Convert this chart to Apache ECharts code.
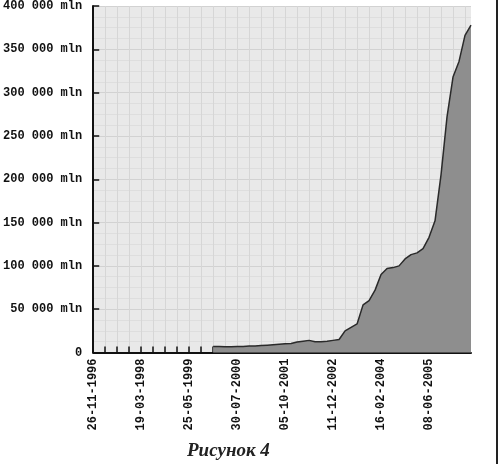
<!DOCTYPE html>
<html>
<head>
<meta charset="utf-8">
<script src="https://cdn.jsdelivr.net/npm/echarts@6/dist/echarts.min.js"></script>
<style>
html, body { margin: 0; padding: 0; background: #fff; }
#chart { width: 499px; height: 464px; }
</style>
</head>
<body>
<div id="chart"></div>
<script>
// dates on the x axis (one every ~2 months, label shown on every 8th)
var dates = [
    '26-11-1996','25-01-1997','26-03-1997','25-05-1997','24-07-1997','22-09-1997','21-11-1997','20-01-1998',
    '19-03-1998','12-05-1998','05-07-1998','28-08-1998','21-10-1998','14-12-1998','06-02-1999','01-04-1999',
    '25-05-1999','18-07-1999','10-09-1999','03-11-1999','27-12-1999','19-02-2000','13-04-2000','06-06-2000',
    '30-07-2000','22-09-2000','15-11-2000','08-01-2001','03-03-2001','26-04-2001','19-06-2001','12-08-2001',
    '05-10-2001','28-11-2001','21-01-2002','16-03-2002','09-05-2002','02-07-2002','25-08-2002','18-10-2002',
    '11-12-2002','03-02-2003','29-03-2003','22-05-2003','15-07-2003','07-09-2003','31-10-2003','24-12-2003',
    '16-02-2004','16-04-2004','15-06-2004','14-08-2004','13-10-2004','12-12-2004','10-02-2005','10-04-2005',
    '08-06-2005','01-08-2005','24-09-2005','17-11-2005','10-01-2006','05-03-2006','28-04-2006','21-06-2006'
];
// values in mln, no data before mid 1999
var values = [
    null,null,null,null,null,null,null,null,
    null,null,null,null,null,null,null,null,
    null,null,null,null,7000,7000,6500,6500,
    7000,7000,7500,7500,8000,8500,9000,9500,
    10000,10500,12000,13000,14000,12500,12500,13000,
    14000,15000,25000,29000,33000,55000,60000,72000,
    90000,97000,98000,100000,108000,113000,115000,120000,
    133000,152000,205000,272000,318000,336000,366000,378000
];
var yTicks = [0, 50000, 100000, 150000, 200000, 250000, 300000, 350000, 400000];

var chart = echarts.init(document.getElementById('chart'));
var monoFont = 'Liberation Mono';
var option = {
    animation: false,
    backgroundColor: '#fff',
    grid: { left: 93, right: 28, top: 4.5, bottom: 111.5, containLabel: false,
            show: true, backgroundColor: '#e9e9e9', borderWidth: 0 },
    xAxis: {
        type: 'category',
        data: dates,
        boundaryGap: false,
        axisLine: { lineStyle: { color: '#111', width: 2 } },
        axisTick: { inside: true, interval: 1, length: 6, lineStyle: { color: '#111', width: 1.5 } },
        axisLabel: {
            interval: 7, rotate: 90, margin: 6,
            fontFamily: monoFont, fontSize: 12, fontWeight: 'bold', color: '#111'
        },
        splitLine: { show: true, interval: 1, lineStyle: { color: '#d6d6d6', width: 1 } }
    },
    yAxis: {
        type: 'value',
        min: yTicks[0],
        max: yTicks[yTicks.length - 1],
        interval: 50000,
        axisLine: { show: true, lineStyle: { color: '#111', width: 2 } },
        axisTick: { show: true, inside: true, length: 6, lineStyle: { color: '#111', width: 1.5 } },
        axisLabel: {
            margin: 11,
            fontFamily: monoFont, fontSize: 12, fontWeight: 'bold', color: '#111',
            formatter: function (v) { return v === 0 ? '0' : (v / 1000) + ' 000 mln'; }
        },
        splitLine: { show: true, lineStyle: { color: '#d2d2d2', width: 1 } },
        minorTick: { show: false, splitNumber: 4 },
        minorSplitLine: { show: true, lineStyle: { color: '#dedede', width: 1 } }
    },
    series: [{
        type: 'line',
        data: values,
        showSymbol: false,
        connectNulls: false,
        lineStyle: { color: '#2a2a2a', width: 1.5 },
        areaStyle: { color: '#8e8e8e', opacity: 1 }
    }],
    graphic: [
        { type: 'line', shape: { x1: 497, y1: 0, x2: 497, y2: 464 },
          style: { stroke: '#222', lineWidth: 2 } },
        { type: 'text', left: 187, top: 442,
          style: { text: 'Рисунок 4', font: 'italic bold 19px "Liberation Serif"', fill: '#222' } }
    ]
};
chart.setOption(option);
</script>
</body>
</html>
